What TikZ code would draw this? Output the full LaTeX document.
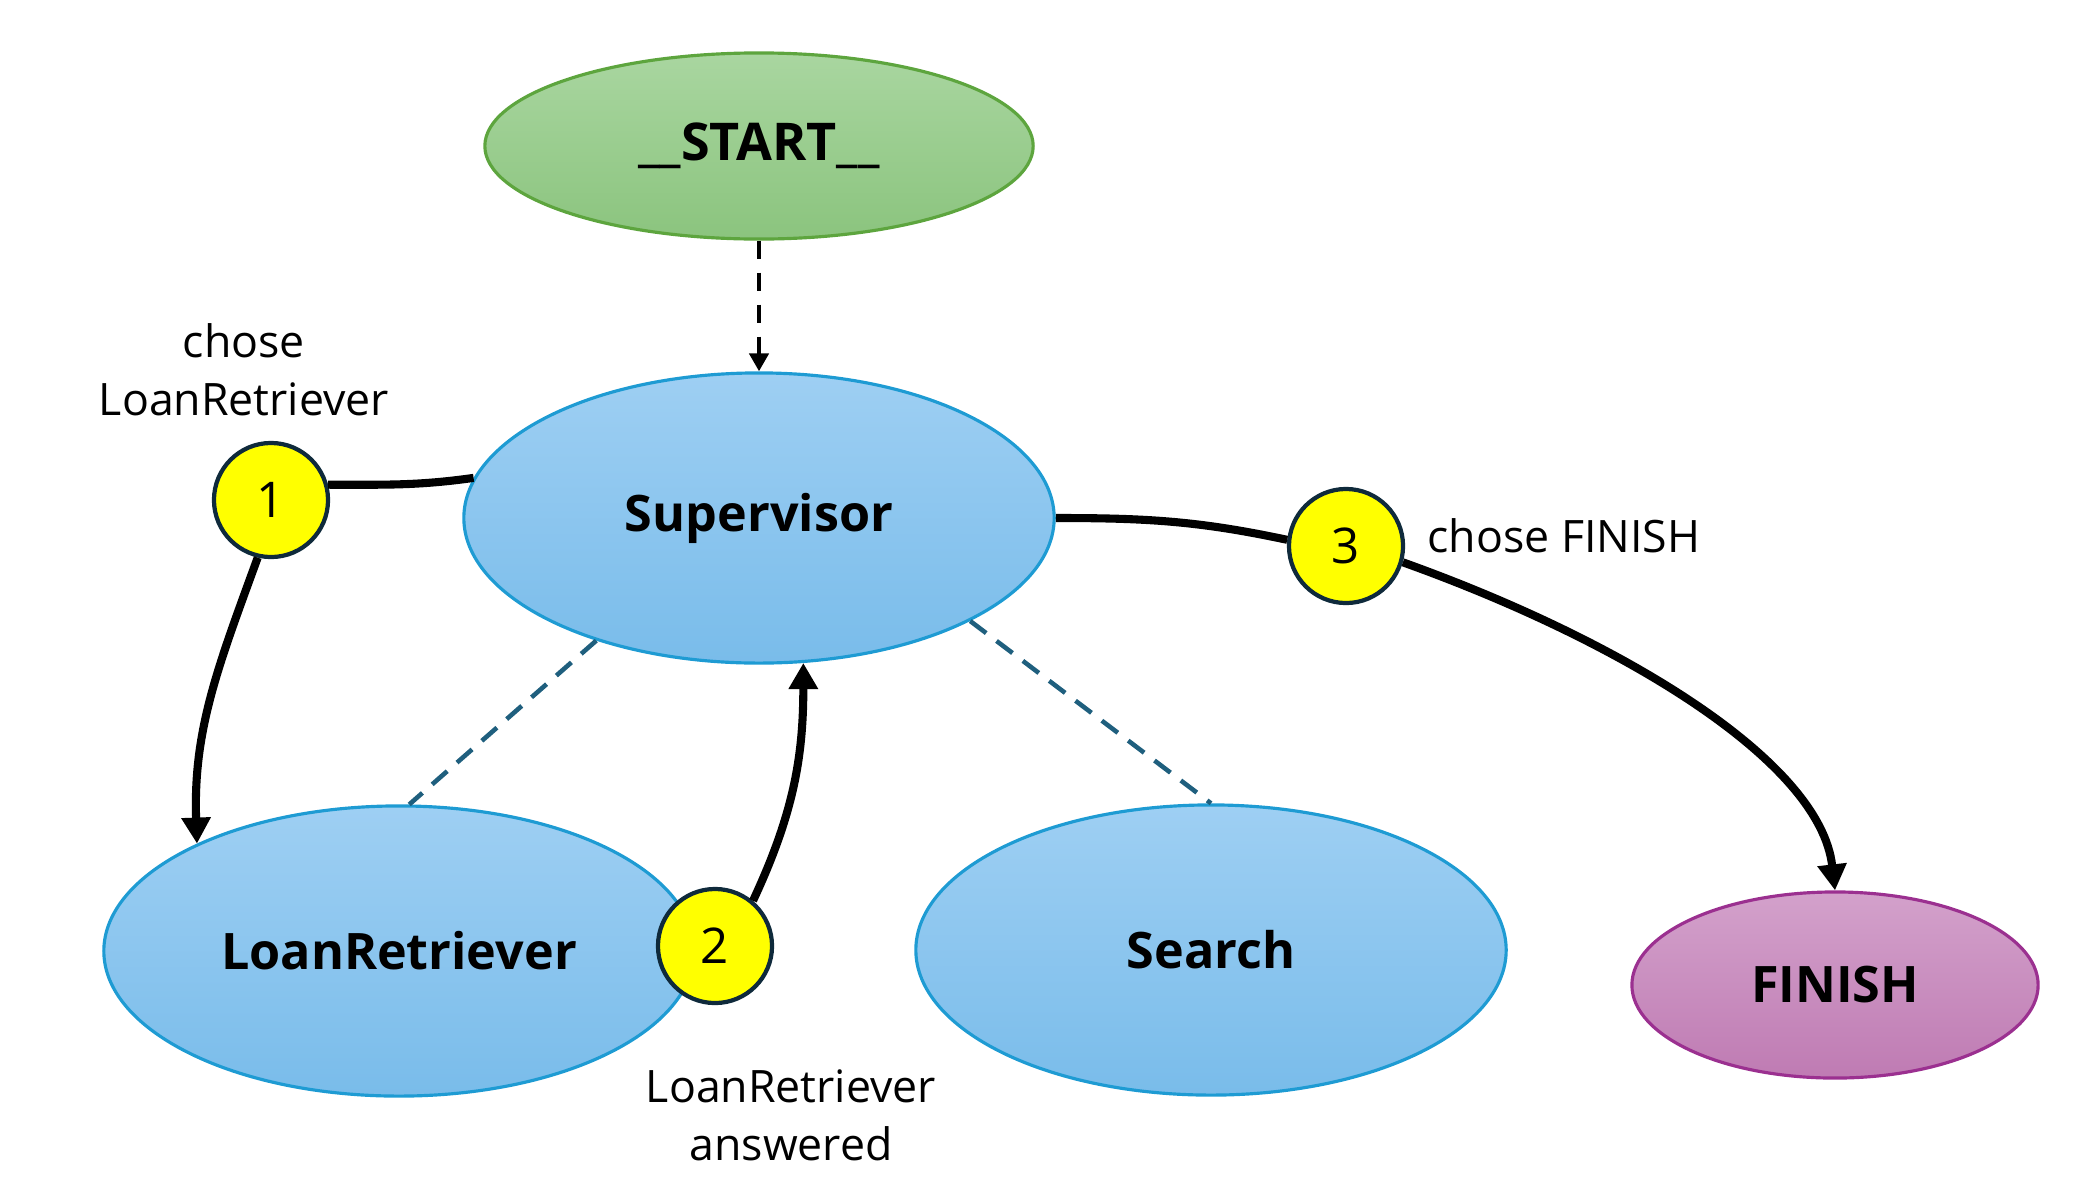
\documentclass[tikz,border=0pt]{standalone}
\usepackage{fontspec}
\setmainfont{Open Sans}
\usetikzlibrary{arrows.meta,shapes.geometric}
\definecolor{greentop}{HTML}{A9D6A0}
\definecolor{greenbot}{HTML}{8BC47E}
\definecolor{greenborder}{HTML}{5DA53E}
\definecolor{bluetop}{HTML}{9ECFF3}
\definecolor{bluebot}{HTML}{79BCEA}
\definecolor{blueborder}{HTML}{1E9BD3}
\definecolor{pinktop}{HTML}{D3A1CB}
\definecolor{pinkbot}{HTML}{BF7BB3}
\definecolor{pinkborder}{HTML}{9B3090}
\definecolor{numborder}{HTML}{0F2A3B}
\definecolor{tealdash}{HTML}{1F5F7E}
\definecolor{numfill}{HTML}{FFFF00}
\tikzset{
  state/.style={ellipse, draw=blueborder, line width=0.9pt, top color=bluetop, bottom color=bluebot,
    inner sep=0pt, minimum width=5.9cm, minimum height=2.9cm, font=\fontsize{14.3}{17}\selectfont\bfseries},
  numc/.style={circle, draw=numborder, line width=1.2pt, fill=numfill, minimum size=1.14cm,
    inner sep=0pt, font=\fontsize{14}{16}\selectfont},
  flow/.style={line width=2.3pt, -{Triangle[width=0.28cm,length=0.26cm]}},
  plainflow/.style={line width=2.3pt},
  link/.style={draw=tealdash, line width=1.3pt, dash pattern=on 0.2cm off 0.13cm},
  startlink/.style={line width=1.4pt, dash pattern=on 0.18cm off 0.14cm, -{Triangle[width=0.19cm,length=0.18cm]}},
  lbl/.style={align=center, font=\fontsize{12.7}{16.5}\selectfont, inner sep=0pt}
}
\begin{document}
\begin{tikzpicture}[x=0.01cm,y=0.01cm]
\useasboundingbox (0,0) rectangle (2077,-1200);
% nodes
\node[ellipse, draw=greenborder, line width=0.9pt, top color=greentop, bottom color=greenbot,
  inner sep=0pt, minimum width=5.48cm, minimum height=1.86cm, font=\fontsize{14.8}{17}\selectfont\bfseries]
  (start) at (759,-146) {\_\_START\_\_};
\node[state] (sup) at (759,-518) {Supervisor};
\node[state] (lr) at (399,-951) {LoanRetriever};
\node[state] (search) at (1211,-950) {Search};
\node[ellipse, draw=pinkborder, line width=0.9pt, top color=pinktop, bottom color=pinkbot,
  inner sep=0pt, minimum width=4.06cm, minimum height=1.86cm, font=\fontsize{14.3}{17}\selectfont\bfseries]
  (finish) at (1835,-985) {FINISH};
\node[numc] (c1) at (271,-500) {1};
\node[numc] (c2) at (715,-946) {2};
\node[numc] (c3) at (1346,-546) {3};
% labels
\node[lbl] (l1) at (244,-370) {chose\\LoanRetriever};
\node[lbl, anchor=west] (l3) at (1427,-536) {chose FINISH};
\node[lbl] (l2) at (791,-1115) {LoanRetriever\\answered};
% connectors
\draw[startlink] (start.south) -- (sup.north);
\draw[link] (sup.217) -- (lr.86);
\draw[link] (sup.-26) -- (search.north);
\draw[plainflow] (c1.15) to[out=0,in=188] (sup.172);
\draw[flow] (c1.257) to[out=-110,in=92] (lr.152);
\draw[flow] (c2.50) to[out=65,in=-90] (sup.-73);
\draw[plainflow] (sup.east) to[out=0,in=168] (c3.174);
\draw[flow] (c3.-16) .. controls (1620,-640) and (1820,-760) .. (finish.north);
\end{tikzpicture}
\end{document}
